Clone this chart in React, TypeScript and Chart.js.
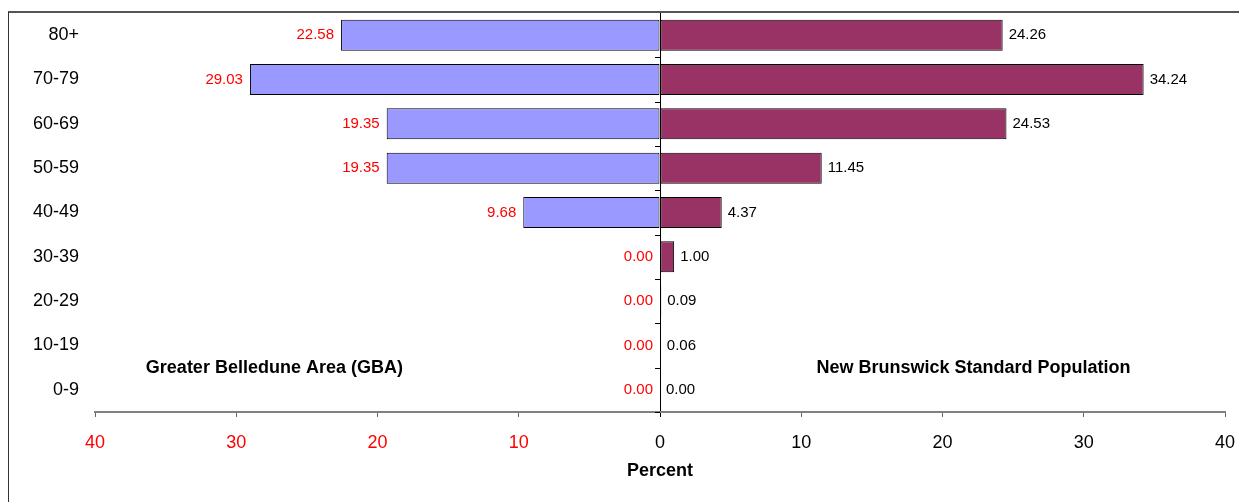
import React, { useEffect, useRef } from "react";
import { Chart, registerables } from "chart.js";

Chart.register(...registerables);

const ageGroups = ["80+", "70-79", "60-69", "50-59", "40-49", "30-39", "20-29", "10-19", "0-9"];
const gbaPercent = [22.58, 29.03, 19.35, 19.35, 9.68, 0.0, 0.0, 0.0, 0.0];
const nbPercent = [24.26, 34.24, 24.53, 11.45, 4.37, 1.0, 0.09, 0.06, 0.0];
const gbaLabel = "Greater Belledune Area (GBA)";
const nbLabel = "New Brunswick Standard Population";
const axisTitle = "Percent";

const FONT = "'Liberation Sans', Arial, sans-serif";

const labelsPlugin = {
  id: "pyramidLabels",
  beforeDraw(chart: any) {
    const ctx = chart.ctx;
    ctx.save();
    ctx.fillStyle = "#fff";
    ctx.fillRect(0, 0, chart.width, chart.height);
    ctx.restore();
  },
  afterDatasetsDraw(chart: any) {
    const ctx = chart.ctx;
    const xs = chart.scales.x;
    const ys = chart.scales.y;
    ctx.save();
    ctx.font = `15px ${FONT}`;
    ctx.textBaseline = "middle";
    const m0 = chart.getDatasetMeta(0);
    m0.data.forEach((bar: any, i: number) => {
      ctx.fillStyle = "#FF0000";
      ctx.textAlign = "right";
      const x = Math.min(bar.x, xs.getPixelForValue(0)) - 7;
      ctx.fillText(gbaPercent[i].toFixed(2), x, bar.y);
    });
    const m1 = chart.getDatasetMeta(1);
    m1.data.forEach((bar: any, i: number) => {
      ctx.fillStyle = "#000";
      ctx.textAlign = "left";
      const x = Math.max(bar.x, xs.getPixelForValue(0)) + 6;
      ctx.fillText(nbPercent[i].toFixed(2), x, bar.y);
    });
    const x0 = xs.getPixelForValue(0);
    ctx.strokeStyle = "#000";
    ctx.lineWidth = 1;
    for (let i = 0; i < ageGroups.length; i++) {
      const yb = Math.round(ys.getPixelForValue(i + 0.5)) + 0.5;
      ctx.beginPath();
      ctx.moveTo(x0 - 5, yb);
      ctx.lineTo(x0, yb);
      ctx.stroke();
    }
    ctx.font = `bold 18px ${FONT}`;
    ctx.fillStyle = "#000";
    ctx.textAlign = "center";
    const ya = ys.getPixelForValue(7.5);
    ctx.fillText(gbaLabel, xs.getPixelForValue(-27.3), ya);
    ctx.fillText(nbLabel, xs.getPixelForValue(22.2), ya);
    ctx.restore();
  },
  afterDraw(chart: any) {
    const ctx = chart.ctx;
    ctx.save();
    ctx.strokeStyle = "#555";
    ctx.lineWidth = 2;
    ctx.beginPath();
    ctx.moveTo(8, 12);
    ctx.lineTo(chart.width, 12);
    ctx.stroke();
    ctx.strokeStyle = "#333";
    ctx.lineWidth = 1;
    ctx.beginPath();
    ctx.moveTo(8.5, 12);
    ctx.lineTo(8.5, chart.height);
    ctx.stroke();
    ctx.restore();
  },
};

export default function App() {
  const ref = useRef<HTMLCanvasElement | null>(null);
  useEffect(() => {
    if (!ref.current) return;
    const chart = new Chart(ref.current, {
      type: "bar",
      data: {
        labels: ageGroups,
        datasets: [
          {
            label: gbaLabel,
            data: gbaPercent.map((v) => -v),
            backgroundColor: "#9999FF",
            borderColor: "#000000",
            borderWidth: 1,
            borderSkipped: false,
            barPercentage: 0.7,
            categoryPercentage: 1,
          },
          {
            label: nbLabel,
            data: nbPercent,
            backgroundColor: "#993366",
            borderColor: "#000000",
            borderWidth: 1,
            borderSkipped: false,
            barPercentage: 0.7,
            categoryPercentage: 1,
          },
        ],
      },
      options: {
        indexAxis: "y",
        responsive: false,
        animation: false,
        layout: { padding: { top: 13, right: 14, left: 0, bottom: 0 } },
        plugins: {
          legend: { display: false },
          tooltip: { enabled: false },
          title: { display: false },
        },
        scales: {
          x: {
            stacked: true,
            min: -40,
            max: 40,
            ticks: {
              stepSize: 10,
              padding: 15,
              font: { family: FONT, size: 18 },
              color: (c: any) => (c.tick && c.tick.value < 0 ? "#FF0000" : "#000000"),
              callback: (v: any) => String(Math.abs(Number(v))),
            },
            grid: {
              drawTicks: true,
              tickLength: 5,
              color: (c: any) => (c.tick && c.tick.value === 0 ? "#000000" : "rgba(0,0,0,0)"),
              tickColor: (c: any) => (c.tick && c.tick.value === 0 ? "#000000" : "#666666"),
            },
            border: { display: true, color: "#808080", width: 2 },
            title: {
              display: true,
              text: axisTitle,
              color: "#000",
              font: { family: FONT, size: 18, weight: "bold" },
              padding: { top: 0, bottom: 20 },
            },
            afterFit: (s: any) => {
              s.height = 90;
              s.paddingLeft = 0;
              s.paddingRight = 0;
            },
          },
          y: {
            stacked: true,
            ticks: {
              padding: 16,
              color: "#000",
              font: { family: FONT, size: 18 },
            },
            grid: { display: false, drawTicks: false },
            border: { display: false },
            afterFit: (s: any) => {
              s.width = 95;
              s.paddingTop = 0;
              s.paddingBottom = 0;
            },
          },
        },
      } as any,
      plugins: [labelsPlugin],
    });
    return () => chart.destroy();
  }, []);
  return (
    <div style={{ position: "absolute", left: 0, top: 0, width: 1239, height: 502, background: "#fff" }}>
      <canvas ref={ref} width={1239} height={502} style={{ display: "block" }} />
    </div>
  );
}
